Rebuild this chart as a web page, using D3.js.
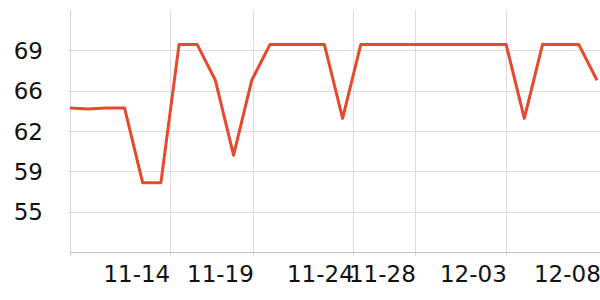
<!DOCTYPE html>
<html>
<head>
<meta charset="utf-8">
<script src="https://cdn.jsdelivr.net/npm/d3@7/dist/d3.min.js"></script>
<style>
  html, body { margin: 0; padding: 0; background: #fff; }
  svg { display: block; }
  svg text { font-family: "DejaVu Sans", sans-serif; font-size: 23px; }
</style>
</head>
<body>
<div id="chart"></div>
<script>
// daily categories, 11-09 .. 12-08
const dates = [
  '11-09', '11-10', '11-11', '11-12', '11-13', '11-14', '11-15', '11-16', '11-17', '11-18',
  '11-19', '11-20', '11-21', '11-22', '11-23', '11-24', '11-25', '11-26', '11-27', '11-28',
  '11-29', '11-30', '12-01', '12-02', '12-03', '12-04', '12-05', '12-06', '12-07', '12-08'
];
const values = [
  64.0, 63.9, 64.0, 64.0, 57.5, 57.5, 69.5, 69.5, 66.4, 59.9,
  66.4, 69.5, 69.5, 69.5, 69.5, 63.1, 69.5, 69.5, 69.5, 69.5,
  69.5, 69.5, 69.5, 69.5, 69.5, 63.1, 69.5, 69.5, 69.5, 66.4
];
// x tick labels and where they sit (in category index units)
const xTickLabels = ['', '11-14', '11-19', '11-24', '11-28', '12-03', '12-08'];
const xTickPos = [0, 5.49, 10.09, 15.59, 19.0, 24.01, 29.18];
// y ticks (labels are rounded)
const yTicks = [51.5, 55, 58.5, 62, 65.5, 69, 72.5];

const W = 600, H = 300;
const M = { top: 10, right: 3, bottom: 48, left: 70 };
const innerW = W - M.left - M.right;
const innerH = H - M.top - M.bottom;

const svg = d3.select('#chart').append('svg')
  .attr('width', W).attr('height', H);

const g = svg.append('g').attr('transform', `translate(${M.left},${M.top})`);

const x = d3.scaleLinear().domain([0, dates.length - 1]).range([0, innerW]);
const y = d3.scaleLinear().domain([51.5, 72.5]).range([innerH, 0]);

// horizontal grid
g.append('g')
  .selectAll('line')
  .data(yTicks.slice(1, -1))
  .join('line')
  .attr('x1', -2).attr('x2', W - M.left)
  .attr('y1', d => Math.round(y(d)) + 0.5).attr('y2', d => Math.round(y(d)) + 0.5)
  .attr('stroke', '#dcdcdc').attr('stroke-width', 1);

// vertical grid
g.append('g')
  .selectAll('line')
  .data(xTickPos.slice(1))
  .join('line')
  .attr('x1', d => Math.round(x(d)) + 0.5).attr('x2', d => Math.round(x(d)) + 0.5)
  .attr('y1', 0).attr('y2', innerH + 4)
  .attr('stroke', '#dcdcdc').attr('stroke-width', 1);

// y axis
const yAxisG = g.append('g')
  .call(d3.axisLeft(y).tickValues(yTicks.slice(1, -1)).tickSize(0).tickPadding(27)
    .tickFormat(d => Math.round(d)));
yAxisG.attr('font-family', null).attr('font-size', null);
yAxisG.select('.domain').remove();
yAxisG.selectAll('text')
  .attr('fill', '#111')
  .attr('dy', '0.36em');

g.append('line')
  .attr('x1', 0.5).attr('x2', 0.5).attr('y1', 0).attr('y2', innerH + 4)
  .attr('stroke', '#d4d4d4');

// x axis
const xAxisG = g.append('g')
  .attr('transform', `translate(0,${innerH})`)
  .call(d3.axisBottom(x).tickValues(xTickPos).tickSize(0).tickPadding(0)
    .tickFormat((d, i) => xTickLabels[i]));
xAxisG.attr('font-family', null).attr('font-size', null);
xAxisG.select('.domain').remove();
xAxisG.selectAll('text')
  .attr('fill', '#111')
  .attr('text-anchor', 'end')
  .attr('y', 30).attr('dy', 0);

g.append('line')
  .attr('x1', 0).attr('x2', W - M.left)
  .attr('y1', innerH + 0.5).attr('y2', innerH + 0.5)
  .attr('stroke', '#c4c4c4');

// series line
const line = d3.line()
  .x((d, i) => x(i))
  .y(d => y(d));

g.append('path')
  .datum(values)
  .attr('fill', 'none')
  .attr('stroke', '#e8482e')
  .attr('stroke-width', 3)
  .attr('stroke-linejoin', 'round')
  .attr('d', line);
</script>
</body>
</html>
